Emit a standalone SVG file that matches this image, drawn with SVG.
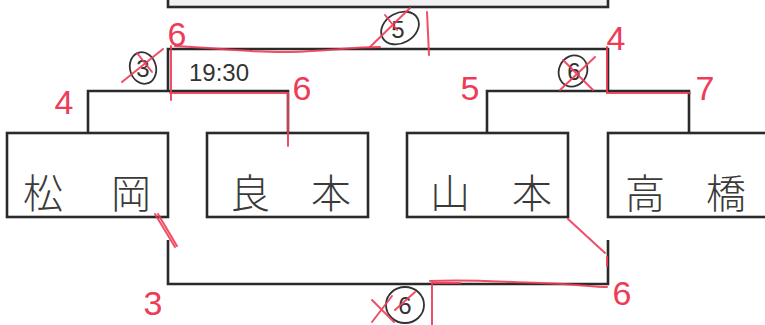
<svg xmlns="http://www.w3.org/2000/svg" width="765" height="325" viewBox="0 0 765 325">
<style>
.box{fill:#fff;stroke:#2a2a2a;stroke-width:2.6}
.ln{fill:none;stroke:#2a2a2a;stroke-width:2.6}
.name{font-family:"Noto Sans CJK JP","Noto Sans CJK SC",sans-serif;font-size:40px;font-weight:300;fill:#3a3a3a;text-anchor:middle}
.red{fill:none;stroke:#ee3b57;stroke-width:2;stroke-linecap:round;opacity:.9}
.rn{font-family:"Liberation Sans",sans-serif;font-size:34px;fill:#ee3b57;text-anchor:middle}
.cir{fill:none;stroke:#333;stroke-width:1.8}
.bn{font-family:"Liberation Sans",sans-serif;font-size:24px;fill:#333;text-anchor:middle}
</style>
<rect width="765" height="325" fill="#fff"/>
<g id="top-box"><rect x="168" y="-10" width="440" height="17" fill="#f1f1f1" stroke="#2a2a2a" stroke-width="2.6"/></g>
<g id="connectors">
<path class="ln" d="M88 133V91H288V133"/>
<path class="ln" d="M487 133V91H689V133"/>
<path class="ln" d="M168 91V49H608V91"/>
<path class="ln" d="M168 240V284H608V240"/>
</g>
<g id="matsuoka"><rect class="box" x="7" y="133" width="161" height="84"/><text class="name" x="43" y="208">松</text><text class="name" x="131" y="208">岡</text></g>
<g id="yoshimoto"><rect class="box" x="207" y="133" width="161" height="84"/><text class="name" x="250" y="208">良</text><text class="name" x="331" y="208">本</text></g>
<g id="yamamoto"><rect class="box" x="407" y="133" width="161" height="84"/><text class="name" x="450" y="208">山</text><text class="name" x="532" y="208">本</text></g>
<g id="takahashi"><rect class="box" x="608" y="133" width="170" height="84"/><text class="name" x="645" y="208">高</text><text class="name" x="726" y="208">橋</text></g>
<g id="annotations">
<text x="189" y="81" font-family="Liberation Sans,sans-serif" font-size="24" fill="#333">19:30</text>
<path class="red" d="M175 46C220 48 250 53 290 52S350 47 380 47"/>
<path class="red" d="M171 46V100"/>
<path class="red" d="M170 93H288V146"/>
<path class="red" d="M607 47V93H690"/>
<path class="red" d="M155 214L175 247M158 214L177 246"/>
<path class="red" d="M568 219L605 253M607 257V266"/>
<path class="red" d="M430 281C470 279 500 282 540 283S590 287 607 287"/>
<path class="red" d="M432 283V325M432 283H460"/>
<path class="red" d="M427 12L429 55"/>
<text class="rn" x="177" y="46">6</text>
<text class="rn" x="64" y="114" font-size="40">4</text>
<text class="rn" x="302" y="100">6</text>
<text class="rn" x="470" y="100">5</text>
<text class="rn" x="616" y="50">4</text>
<text class="rn" x="705" y="100">7</text>
<text class="rn" x="153" y="315">3</text>
<text class="rn" x="622" y="305">6</text>
<ellipse class="cir" cx="143" cy="68" rx="13" ry="16" transform="rotate(-15 143 68)"/>
<text class="bn" x="143" y="77">3</text>
<path class="red" d="M122 82L163 49M137 53L152 72"/>
<ellipse class="cir" cx="400" cy="28" rx="20" ry="15" transform="rotate(-30 400 28)"/>
<text class="bn" x="398" y="38">5</text>
<path class="red" d="M370 47L410 8M385 15L397 30"/>
<ellipse class="cir" cx="573" cy="71" rx="14" ry="16" transform="rotate(25 573 71)"/>
<text class="bn" x="574" y="80">6</text>
<path class="red" d="M560 90L595 57M563 60L593 90"/>
<ellipse class="cir" cx="405" cy="305" rx="19" ry="18"/>
<text class="bn" x="405" y="314">6</text>
<path class="red" d="M372 300L394 322M372 322L392 296M395 310L415 292"/>
</g>
</svg>
